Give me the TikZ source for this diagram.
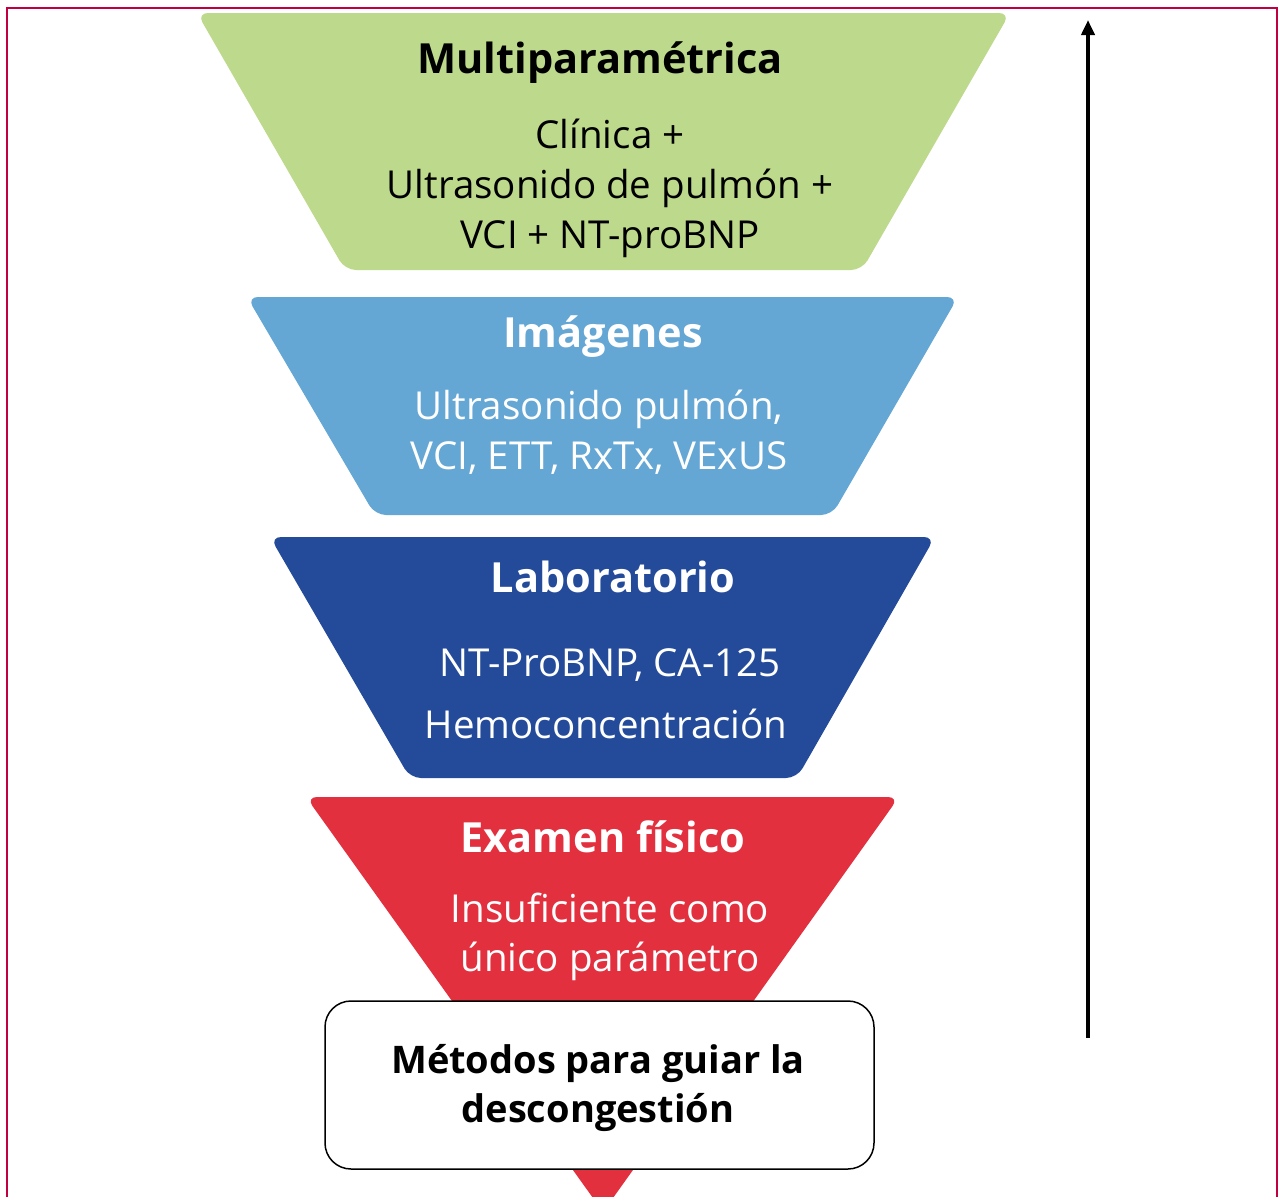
\documentclass[tikz,border=0pt]{standalone}
\usepackage{fontspec}
\setmainfont[Ligatures={NoCommon}]{Open Sans}
\usetikzlibrary{arrows.meta}
\definecolor{frameC}{HTML}{C2003F}
\definecolor{greenC}{HTML}{BDD98C}
\definecolor{blueC}{HTML}{64A6D4}
\definecolor{navyC}{HTML}{244A9A}
\definecolor{redC}{HTML}{E3303F}
\tikzset{
  level/.style={rounded corners=11pt},
  title/.style={anchor=base, inner sep=0pt, font=\fontsize{41.5}{48}\selectfont\bfseries},
  body/.style={anchor=base, inner sep=0pt, font=\fontsize{38.5}{48}\selectfont},
  boxtxt/.style={anchor=base, inner sep=0pt, font=\fontsize{38}{48}\selectfont\bfseries},
  methodbox/.style={draw=black, line width=1.5pt, fill=white, rounded corners=26pt, minimum width=549pt, minimum height=168pt, inner sep=0pt},
  uparrow/.style={line width=4pt, -{Triangle[length=15pt,width=13pt]}}
}
\begin{document}
\begin{tikzpicture}[x=1pt,y=-1pt]
\useasboundingbox (0,0) rectangle (1278,1197);
% frame
\draw[frameC, line width=2pt] (7,1200) -- (7,8) -- (1277,8) -- (1277,1200);
% levels
\fill[greenC, level] (197,13) -- (1010,13) -- (862,270) -- (345,270) -- cycle;
\fill[blueC, level] (247,297) -- (958,297) -- (832,515) -- (375,515) -- cycle;
\fill[navyC, level] (270,537) -- (935,537) -- (797,778) -- (410,778) -- cycle;
\fill[redC, level] (306,797) -- (899,797) -- (603,1212) -- cycle;
% texts
\node[title] (t1) at (600,73) {Multiparamétrica};
\node[body] (b11) at (610,148) {Clínica +};
\node[body] (b12) at (610,198) {Ultrasonido de pulmón +};
\node[body] (b13) at (610,248) {VCI + NT-proBNP};
\node[title, text=white] (t2) at (603,347) {Imágenes};
\node[body, text=white] (b21) at (599,419) {Ultrasonido pulmón,};
\node[body, text=white] (b22) at (599,469) {VCI, ETT, RxTx, VExUS};
\node[title, text=white] (t3) at (613,592) {Laboratorio};
\node[body, text=white] (b31) at (610,676) {NT-ProBNP, CA-125};
\node[body, text=white] (b32) at (606,738) {Hemoconcentración};
\node[title, text=white] (t4) at (603,852) {Examen físico};
\node[body, text=white] (b41) at (610,922) {Insuficiente como};
\node[body, text=white] (b42) at (610,971) {único parámetro};
% box
\node[methodbox] (box) at (599.5,1085) {};
\node[boxtxt] (m1) at (598,1073) {Métodos para guiar la};
\node[boxtxt] (m2) at (598,1122) {descongestión};
% arrow
\coordinate (abot) at (1088,1038);
\coordinate (atop) at (1088,20);
\draw[uparrow] (abot) -- (atop);
\end{tikzpicture}
\end{document}
